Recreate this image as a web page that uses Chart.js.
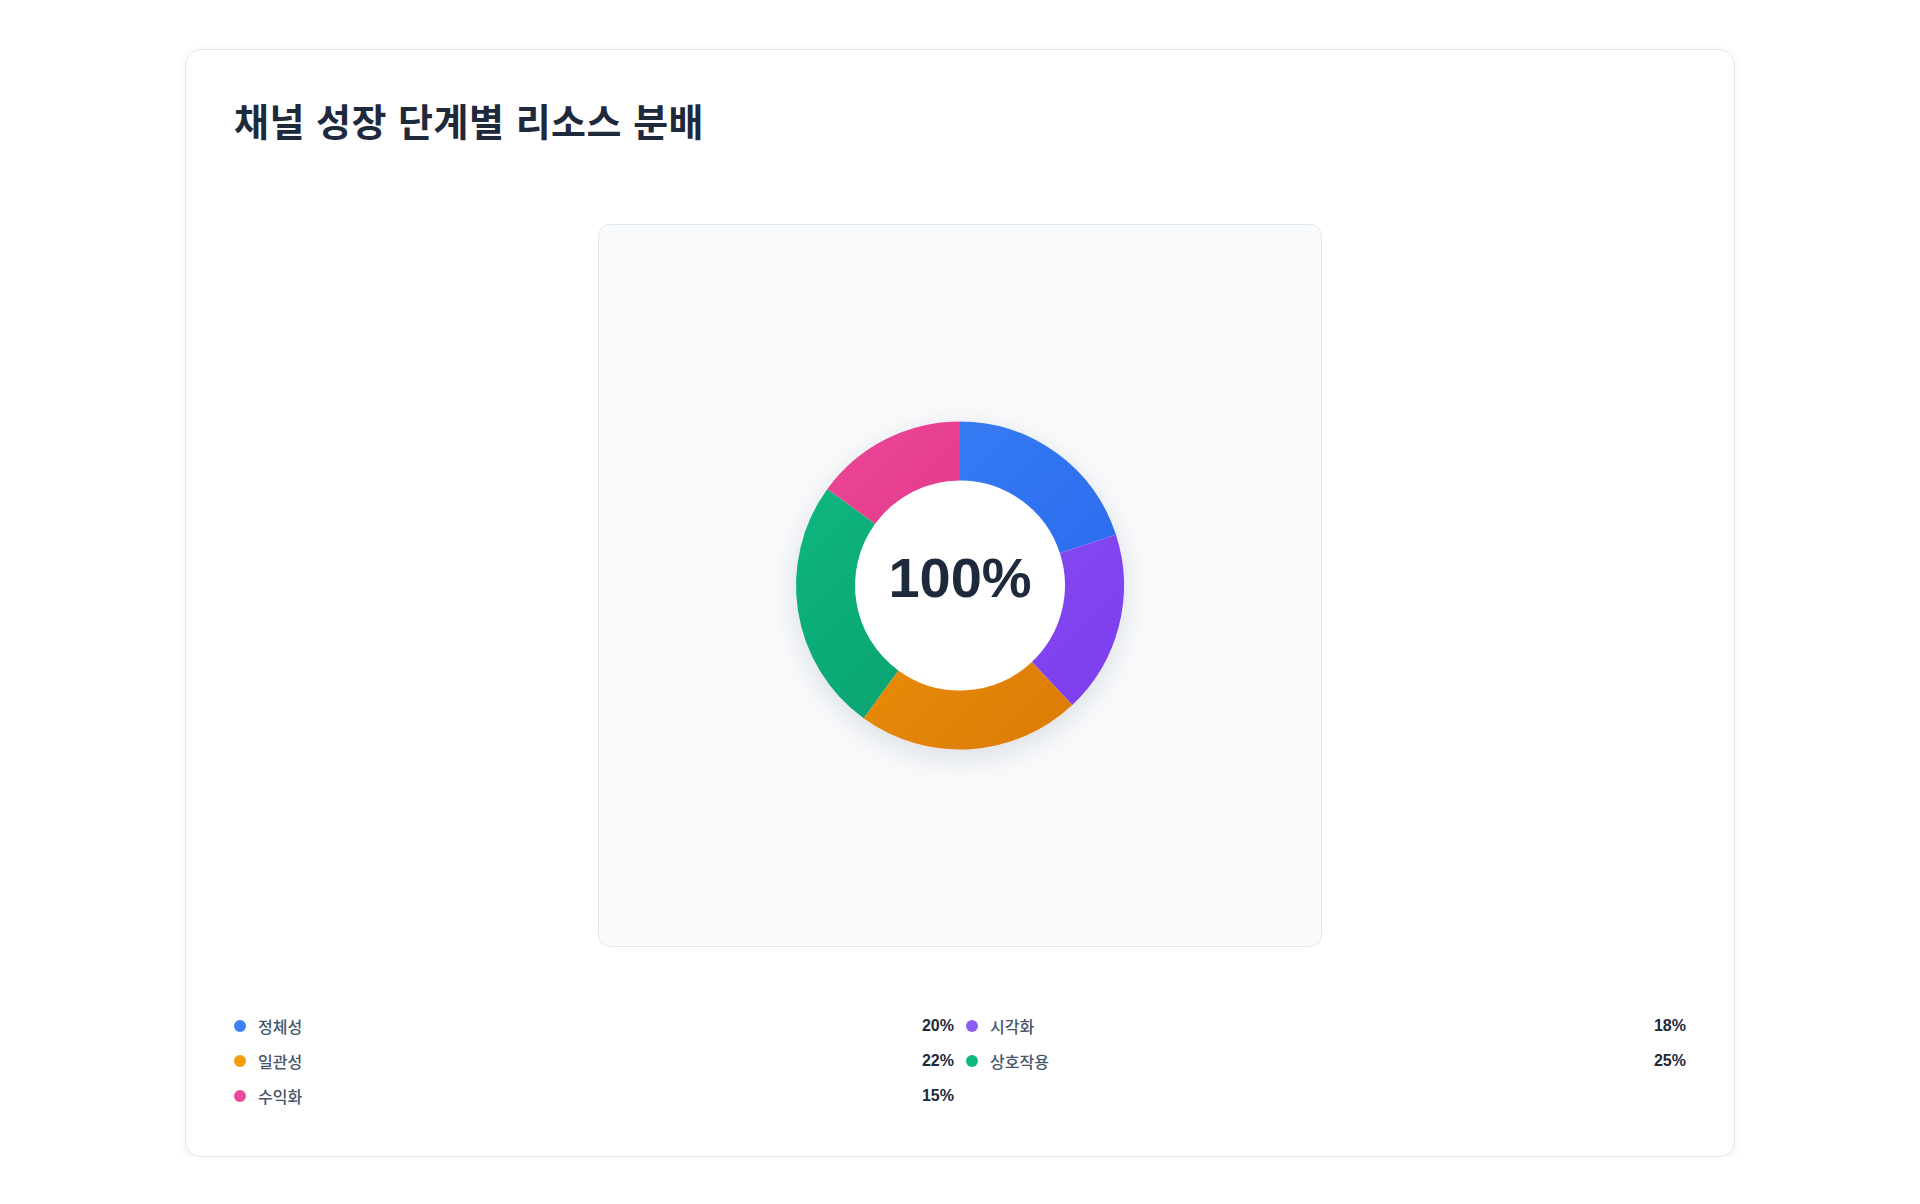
<!DOCTYPE html>
<html lang="ko">
<head>
<meta charset="utf-8">
<title>채널 성장 단계별 리소스 분배</title>
<script src="https://cdn.jsdelivr.net/npm/chart.js@4.4.1/dist/chart.umd.min.js"></script>
<style>
    * { box-sizing: border-box; }
    body {
        margin: 0;
        background: #ffffff;
        font-family: "Liberation Sans", "Noto Sans CJK KR", sans-serif;
    }
    .card {
        width: 1550px;
        margin: 49px auto 0;
        padding: 48px;
        background: #fff;
        border: 1px solid #e5e7eb;
        border-radius: 16px;
        box-shadow: 0 2px 10px rgba(15, 23, 42, 0.06);
    }
    .card h2 {
        margin: 0;
        font-size: 38px;
        line-height: 43px;
        letter-spacing: 0.5px;
        font-weight: 600;
        color: #1e293b;
        font-family: "Noto Sans CJK KR", sans-serif;
    }
    .chart-box {
        width: 724px;
        height: 723px;
        margin: 83px auto 0;
        background: #f8fafc;
        border: 1px solid #e2e8f0;
        border-radius: 12px;
        position: relative;
    }
    .legend {
        margin-top: 67px;
        display: grid;
        grid-template-columns: 1fr 1fr;
        column-gap: 12px;
        row-gap: 11px;
    }
    .legend-item {
        display: flex;
        align-items: center;
        height: 24px;
        font-size: 16px;
    }
    .legend-dot {
        width: 12px;
        height: 12px;
        border-radius: 50%;
        margin-right: 12px;
        flex: none;
    }
    .legend-label {
        color: #475569;
        font-weight: 500;
        flex: 1;
    }
    .legend-value {
        color: #1e293b;
        font-weight: 700;
    }
</style>
</head>
<body>
<div class="card">
    <h2>채널 성장 단계별 리소스 분배</h2>
    <div class="chart-box">
        <canvas id="resourceChart"></canvas>
    </div>
    <div class="legend" id="legend"></div>
</div>

<script>
const stageLabels = ['정체성', '시각화', '일관성', '상호작용', '수익화'];
const stageShares = [20, 18, 22, 25, 15];

// 밝은색 -> 어두운색 그라데이션
const lightColors = ['#3b82f6', '#8b5cf6', '#f59e0b', '#10b981', '#ec4899'];
const darkColors = ['#2563eb', '#7c3aed', '#d97706', '#059669', '#db2777'];

document.addEventListener("DOMContentLoaded", () => {

    // 범례 (HTML)
    const legendEl = document.getElementById('legend');
    stageLabels.forEach((label, i) => {
        const item = document.createElement('div');
        item.className = 'legend-item';
        item.innerHTML =
            '<span class="legend-dot" style="background:' + lightColors[i] + '"></span>' +
            '<span class="legend-label">' + label + '</span>' +
            '<span class="legend-value">' + stageShares[i] + '%</span>';
        legendEl.appendChild(item);
    });

    const total = stageShares.reduce((a, b) => a + b, 0);

    // 도넛 뒤 흰 원 + 그림자
    const ringShadow = {
        id: 'ringShadow',
        beforeDatasetsDraw(chart) {
            const arc = chart.getDatasetMeta(0).data[0];
            if (!arc) return;
            const ctx = chart.ctx;
            ctx.save();
            ctx.shadowColor = 'rgba(15, 23, 42, 0.12)';
            ctx.shadowBlur = 30;
            ctx.shadowOffsetY = 8;
            ctx.fillStyle = '#ffffff';
            ctx.beginPath();
            ctx.arc(arc.x, arc.y, arc.outerRadius, 0, Math.PI * 2);
            ctx.fill();
            ctx.restore();
        }
    };

    // 가운데 텍스트
    const centerText = {
        id: 'centerText',
        afterDatasetsDraw(chart) {
            const arc = chart.getDatasetMeta(0).data[0];
            if (!arc) return;
            const ctx = chart.ctx;
            ctx.save();
            ctx.font = "bold 56px 'Liberation Sans', sans-serif";
            ctx.fillStyle = '#1e293b';
            ctx.textAlign = 'center';
            ctx.textBaseline = 'middle';
            ctx.fillText(total + '%', arc.x, arc.y - 4);
            ctx.restore();
        }
    };

    const ctxEl = document.getElementById('resourceChart');
    new Chart(ctxEl, {
        type: 'doughnut',
        data: {
            labels: stageLabels,
            datasets: [{
                data: stageShares,
                backgroundColor: (c) => {
                    const area = c.chart.chartArea;
                    const i = c.dataIndex;
                    if (!area) return lightColors[i];
                    const cx = (area.left + area.right) / 2;
                    const cy = (area.top + area.bottom) / 2;
                    const r = 164;
                    const g = c.chart.ctx.createLinearGradient(cx - r, cy - r, cx + r, cy + r);
                    g.addColorStop(0, lightColors[i]);
                    g.addColorStop(1, darkColors[i]);
                    return g;
                },
                borderWidth: 0,
                hoverOffset: 0
            }]
        },
        options: {
            responsive: true,
            maintainAspectRatio: false,
            animation: false,
            cutout: '64%',
            radius: 164,
            plugins: {
                legend: { display: false },
                tooltip: {
                    callbacks: {
                        label: (context) => context.label + ': ' + context.raw + '%'
                    }
                }
            }
        },
        plugins: [ringShadow, centerText]
    });
});
</script>
</body>
</html>
